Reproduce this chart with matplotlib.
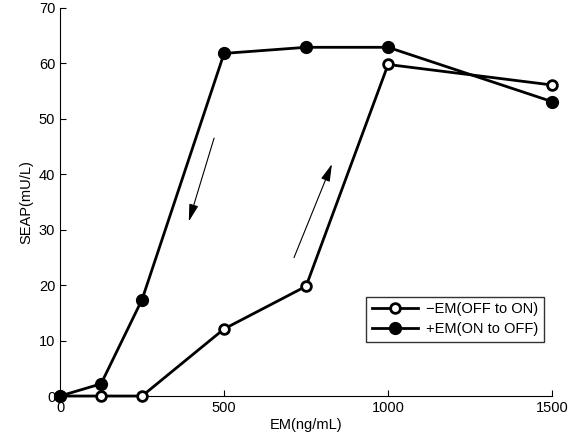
import matplotlib.pyplot as plt

plt.rcParams['font.family'] = ['Liberation Sans', 'DejaVu Sans']

em = [0, 125, 250, 500, 750, 1000, 1500]
off_to_on = [0, 0, 0, 12.1, 19.8, 59.8, 56.1]
on_to_off = [0, 2.2, 17.4, 61.8, 62.9, 62.9, 53.1]

fig = plt.figure(figsize=(5.83, 4.41), dpi=100)
ax = fig.add_axes([0.103, 0.102, 0.844, 0.880])

ax.plot(em, off_to_on, '-o', color='black', lw=2, ms=7, mfc='white', mew=2,
        label='\u2212EM(OFF to ON)', clip_on=False, zorder=3)
ax.plot(em, on_to_off, '-o', color='black', lw=2, ms=8.5, mfc='black',
        label='+EM(ON to OFF)', clip_on=False, zorder=3)

# direction arrows
head = '-|>,head_length=0.75,head_width=0.2'
ax.annotate('', xy=(390, 31), xytext=(472, 47),
            arrowprops=dict(arrowstyle=head, color='black', lw=0.8,
                            mutation_scale=14))
ax.annotate('', xy=(832, 42.3), xytext=(710, 24.5),
            arrowprops=dict(arrowstyle=head, color='black', lw=0.8,
                            mutation_scale=14))

ax.set_xlim(0, 1500)
ax.set_ylim(0, 70)
ax.set_xticks([0, 500, 1000, 1500])
ax.set_yticks(range(0, 71, 10))
ax.tick_params(direction='in', length=4, labelsize=10.5)
ax.spines['top'].set_visible(False)
ax.spines['right'].set_visible(False)
ax.set_xlabel('EM(ng/mL)', fontsize=10.5, labelpad=2)
ax.set_ylabel('SEAP(mU/L)', fontsize=10.5)

leg = ax.legend(loc='lower right', bbox_to_anchor=(0.998, 0.12), fancybox=False,
                edgecolor='black', fontsize=10.5, handlelength=3.2,
                borderpad=0.4, labelspacing=0.4, handletextpad=0.5)
leg.get_frame().set_linewidth(1)

plt.savefig('out.png', dpi=100)
plt.close()
